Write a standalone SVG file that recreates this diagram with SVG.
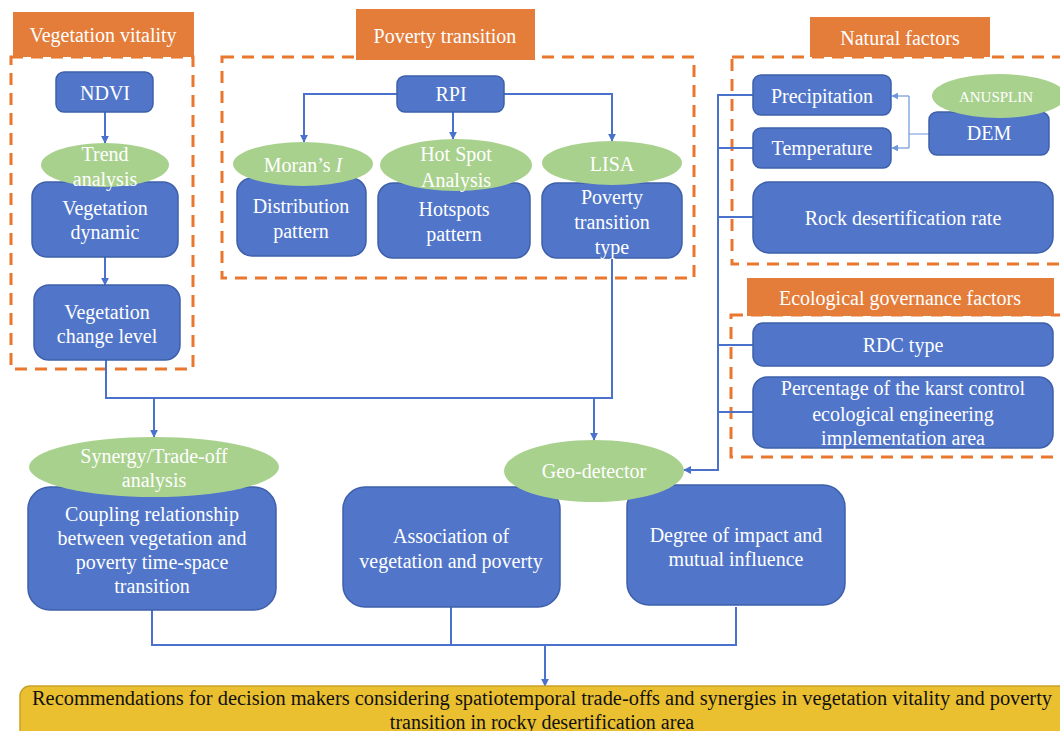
<svg xmlns="http://www.w3.org/2000/svg" width="1060" height="731" viewBox="0 0 1060 731">
<defs>
<style>
text{font-family:"Liberation Serif","Times New Roman",serif;font-size:20px;fill:#fff;text-anchor:middle;dominant-baseline:central}
.box{fill:#5075C9;stroke:#3E60AA;stroke-width:1.5}
.ell{fill:#A9D18E}
.hdr{fill:#E47C3A}
.dash{fill:none;stroke:#E9772E;stroke-width:3;stroke-dasharray:12 8}
.ln{fill:none;stroke:#4A72CC;stroke-width:2}
.thin{fill:none;stroke:#6F95DB;stroke-width:1.2}
.dark{fill:#111}
</style>
<marker id="ah" viewBox="0 0 10 10" refX="9" refY="5" markerWidth="8" markerHeight="8" markerUnits="userSpaceOnUse" orient="auto">
<path d="M0,0 L10,5 L0,10 z" fill="#4A72CC"/>
</marker>
<marker id="ah2" viewBox="0 0 10 10" refX="9" refY="5" markerWidth="7" markerHeight="7" markerUnits="userSpaceOnUse" orient="auto">
<path d="M0,0 L10,5 L0,10 z" fill="#6F95DB"/>
</marker>
</defs>
<rect width="1060" height="731" fill="#fff"/>

<g id="frames">
<rect class="dash" x="11" y="57" width="182" height="312"/>
<rect class="dash" x="222" y="57" width="472" height="221"/>
<rect class="dash" x="732" y="57" width="360" height="207"/>
<rect class="dash" x="731" y="315" width="360" height="142"/>
</g>

<g id="connectors">
<path class="ln" d="M105 112 V143" marker-end="url(#ah)"/>
<path class="ln" d="M105 257 V285" marker-end="url(#ah)"/>
<path class="ln" d="M106 360 V398 H612 V258"/>
<path class="ln" d="M154 398 V437" marker-end="url(#ah)"/>
<path class="ln" d="M594 398 V440" marker-end="url(#ah)"/>
<path class="ln" d="M397 94 H304 V142" marker-end="url(#ah)"/>
<path class="ln" d="M504 94 H612 V141" marker-end="url(#ah)"/>
<path class="ln" d="M453 112 V139" marker-end="url(#ah)"/>
<path class="ln" d="M753 95 H718 V470 H684" marker-end="url(#ah)"/>
<path class="ln" d="M718 148 H753 M718 217 H753 M718 345 H753 M718 412 H753"/>
<path class="thin" d="M929 134 H909 M909 96 V148"/>
<path class="thin" d="M909 96 H892" marker-end="url(#ah2)"/>
<path class="thin" d="M909 148 H892" marker-end="url(#ah2)"/>
<path class="ln" d="M152 610 V645 H736 V607 M451 607 V645"/>
<path class="ln" d="M545 645 V686" marker-end="url(#ah)"/>
</g>

<g id="hdr-veg"><rect class="hdr" x="13" y="12" width="181" height="45"/><text x="103" y="35">Vegetation vitality</text></g>
<g id="hdr-pov"><rect class="hdr" x="356" y="9" width="179" height="51"/><text x="445" y="36">Poverty transition</text></g>
<g id="hdr-nat"><rect class="hdr" x="810" y="17" width="180" height="40"/><text x="900" y="38">Natural factors</text></g>
<g id="hdr-eco"><rect class="hdr" x="747" y="278" width="307" height="38"/><text x="900" y="298">Ecological governance factors</text></g>

<g id="ndvi"><rect class="box" x="56" y="72" width="97" height="40" rx="8"/><text x="105" y="93">NDVI</text></g>
<g id="veg-dyn"><rect class="box" x="32" y="182" width="146" height="75" rx="15"/><text x="105" y="208">Vegetation</text><text x="105" y="232">dynamic</text></g>
<g id="trend"><ellipse class="ell" cx="105" cy="165" rx="64" ry="22"/><text x="105" y="154">Trend</text><text x="105" y="179">analysis</text></g>
<g id="veg-level"><rect class="box" x="34" y="285" width="146" height="75" rx="15"/><text x="107" y="312">Vegetation</text><text x="107" y="336">change level</text></g>

<g id="rpi"><rect class="box" x="397" y="76" width="107" height="36" rx="8"/><text x="451" y="94">RPI</text></g>
<g id="dist"><rect class="box" x="237" y="178" width="129" height="78" rx="15"/><text x="301" y="206">Distribution</text><text x="301" y="231">pattern</text></g>
<g id="moran"><ellipse class="ell" cx="303" cy="164" rx="70" ry="22"/><text x="303" y="165">Moran’s <tspan font-style="italic">I</tspan></text></g>
<g id="hotspots"><rect class="box" x="378" y="183" width="152" height="75" rx="15"/><text x="454" y="209">Hotspots</text><text x="454" y="234">pattern</text></g>
<g id="hotspot"><ellipse class="ell" cx="456" cy="165" rx="76" ry="26"/><text x="456" y="154">Hot Spot</text><text x="456" y="180">Analysis</text></g>
<g id="ptype"><rect class="box" x="542" y="183" width="140" height="75" rx="15"/><text x="612" y="197">Poverty</text><text x="612" y="222">transition</text><text x="612" y="247">type</text></g>
<g id="lisa"><ellipse class="ell" cx="612" cy="163" rx="70" ry="22"/><text x="612" y="164">LISA</text></g>

<g id="precip"><rect class="box" x="753" y="75" width="138" height="40" rx="8"/><text x="822" y="96">Precipitation</text></g>
<g id="temp"><rect class="box" x="753" y="128" width="138" height="40" rx="8"/><text x="822" y="148">Temperature</text></g>
<g id="dem"><rect class="box" x="929" y="112" width="120" height="43" rx="8"/><text x="989" y="133">DEM</text></g>
<g id="anusplin"><ellipse class="ell" cx="999" cy="96" rx="67" ry="22"/><text x="996" y="97" style="font-size:15px">ANUSPLIN</text></g>
<g id="rock"><rect class="box" x="753" y="182" width="300" height="71" rx="16"/><text x="903" y="218">Rock desertification rate</text></g>
<g id="rdc"><rect class="box" x="753" y="323" width="300" height="43" rx="10"/><text x="903" y="345">RDC type</text></g>
<g id="karst"><rect class="box" x="753" y="377" width="300" height="71" rx="14"/><text x="903" y="388">Percentage of the karst control</text><text x="903" y="414">ecological engineering</text><text x="903" y="438">implementation area</text></g>

<g id="coupling"><rect class="box" x="28" y="487" width="248" height="123" rx="22"/><text x="152" y="514">Coupling relationship</text><text x="152" y="538">between vegetation and</text><text x="152" y="562">poverty time-space</text><text x="152" y="586">transition</text></g>
<g id="synergy"><ellipse class="ell" cx="154" cy="467" rx="125" ry="30"/><text x="154" y="456">Synergy/Trade-off</text><text x="154" y="480">analysis</text></g>
<g id="assoc"><rect class="box" x="343" y="487" width="217" height="120" rx="22"/><text x="451" y="536">Association of</text><text x="451" y="561">vegetation and poverty</text></g>
<g id="degree"><rect class="box" x="627" y="485" width="218" height="120" rx="22"/><text x="736" y="535">Degree of impact and</text><text x="736" y="559">mutual influence</text></g>
<g id="geo"><ellipse class="ell" cx="594" cy="471" rx="90" ry="31"/><text x="594" y="471">Geo-detector</text></g>

<g id="recommend"><rect x="20" y="686" width="1060" height="70" rx="10" fill="#EBC030" stroke="#C9A12A" stroke-width="1.5"/>
<text class="dark" x="542" y="698" textLength="1020" lengthAdjust="spacingAndGlyphs">Recommendations for decision makers considering spatiotemporal trade-offs and synergies in vegetation vitality and poverty</text>
<text class="dark" x="542" y="722">transition in rocky desertification area</text></g>
</svg>
